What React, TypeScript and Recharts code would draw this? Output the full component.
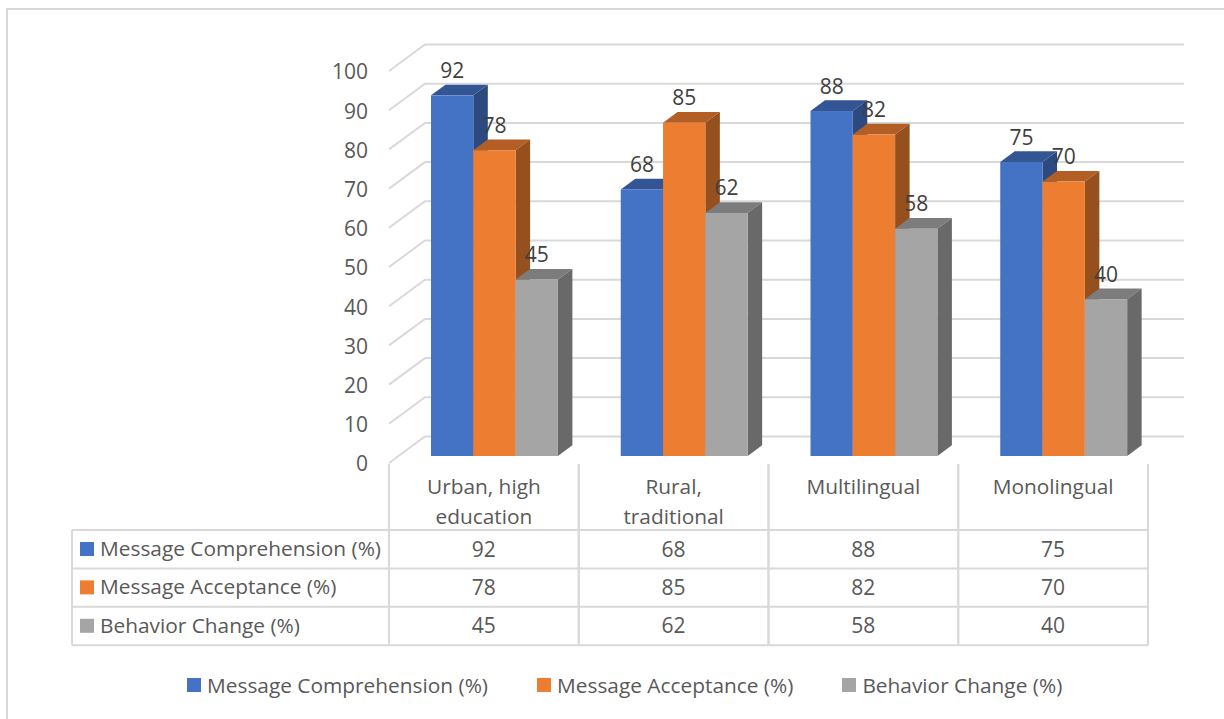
import React from 'react';
import { BarChart, Bar, XAxis, YAxis, CartesianGrid, Legend, LabelList } from 'recharts';

const categories = ['Urban, high education', 'Rural, traditional', 'Multilingual', 'Monolingual'];
const categoryLines = [['Urban, high', 'education'], ['Rural,', 'traditional'], ['Multilingual'], ['Monolingual']];
const comprehension = [92, 68, 88, 75];
const acceptance = [78, 85, 82, 70];
const behavior = [45, 62, 58, 40];
const yTicks = [0, 10, 20, 30, 40, 50, 60, 70, 80, 90, 100];

const seriesList = [
  { key: 'Message Comprehension (%)', values: comprehension, color: '#4472C4', top: '#335593', side: '#2C4A80' },
  { key: 'Message Acceptance (%)', values: acceptance, color: '#ED7D31', top: '#B25E24', side: '#95501D' },
  { key: 'Behavior Change (%)', values: behavior, color: '#A5A5A5', top: '#7C7C7C', side: '#696969' },
];

const chartData = categories.map((name, i) => {
  const row: any = { name };
  seriesList.forEach((s) => { row[s.key] = s.values[i]; });
  return row;
});

const FONT = '"Open Sans", sans-serif';
const TEXT = '#595959';
const LINE = '#D9D9D9';
const WORD_SIZE = 20.85;
const NUM_SIZE = 21;

// where the bars sit between the front edge of the floor and the back wall
const BAR_DX = 11;
const BAR_DY = -7;
const DEPTH_X = 14.5;
const DEPTH_Y = -10.7;
const WALL_DX = 36;
const WALL_DY = -26.5;

const TABLE_LEFT = 72;
const AXIS_LEFT = 389;
const TABLE_TOP = 530;
const ROW_H = 38.4;
const BAND = 189.75;

const Bar3D = ({ x, y, width, height, fill, top, side }: any) => {
  const l = x + BAR_DX;
  const r = l + width;
  const t = y + BAR_DY;
  const b = t + height;
  return (
    <g>
      <polygon points={`${l},${t} ${l + DEPTH_X},${t + DEPTH_Y} ${r + DEPTH_X},${t + DEPTH_Y} ${r},${t}`} fill={top} />
      <polygon points={`${r},${t} ${r + DEPTH_X},${t + DEPTH_Y} ${r + DEPTH_X},${b + DEPTH_Y} ${r},${b}`} fill={side} />
      <rect x={l} y={t} width={width} height={height} fill={fill} />
    </g>
  );
};

const WallLine = ({ x1, y1, x2 }: any) => (
  <polyline
    points={`${x1},${y1} ${x1 + WALL_DX},${y1 + WALL_DY} ${x2 + WALL_DX},${y1 + WALL_DY}`}
    fill="none"
    stroke={LINE}
    strokeWidth={2}
  />
);

const BarLabel = ({ x, y, width, value }: any) => (
  <text x={x + width / 2 + BAR_DX} y={y + BAR_DY - 25.5} textAnchor="middle" dominantBaseline="central" fontFamily={FONT} fontSize={NUM_SIZE} fill="#404040">
    {value}
  </text>
);

// the category label plus that column of the data table
const TableColumn = ({ x, payload, index }: any) => {
  const i = payload.index ?? index;
  const lines = categoryLines[i];
  const left = x - BAND / 2;
  const right = x + BAND / 2;
  return (
    <g fontFamily={FONT} fontSize={NUM_SIZE} fill={TEXT} textAnchor="middle">
      {lines.map((line, n) => (
        <text key={line} x={x} y={486 + n * 30} fontSize={WORD_SIZE} dominantBaseline="central">{line}</text>
      ))}
      <line x1={left} y1={464} x2={left} y2={TABLE_TOP + ROW_H * 3} stroke={LINE} strokeWidth={2} />
      <line x1={right} y1={464} x2={right} y2={TABLE_TOP + ROW_H * 3} stroke={LINE} strokeWidth={2} />
      {seriesList.map((s, r) => (
        <g key={s.key}>
          <line x1={left} y1={TABLE_TOP + ROW_H * r} x2={right} y2={TABLE_TOP + ROW_H * r} stroke={LINE} strokeWidth={2} />
          <text x={x} y={TABLE_TOP + ROW_H * r + 18.5} dominantBaseline="central">{s.values[i]}</text>
        </g>
      ))}
      <line x1={left} y1={TABLE_TOP + ROW_H * 3} x2={right} y2={TABLE_TOP + ROW_H * 3} stroke={LINE} strokeWidth={2} />
    </g>
  );
};

const RowHeaders = () => (
  <g fontFamily={FONT} fontSize={WORD_SIZE} fill={TEXT}>
    <line x1={TABLE_LEFT} y1={TABLE_TOP} x2={TABLE_LEFT} y2={TABLE_TOP + ROW_H * 3} stroke={LINE} strokeWidth={2} />
    {seriesList.map((s, r) => (
      <g key={s.key}>
        <line x1={TABLE_LEFT} y1={TABLE_TOP + ROW_H * r} x2={AXIS_LEFT} y2={TABLE_TOP + ROW_H * r} stroke={LINE} strokeWidth={2} />
        <rect x={80} y={TABLE_TOP + ROW_H * r + 12} width={14} height={14} fill={s.color} />
        <text x={100} y={TABLE_TOP + ROW_H * r + 18} dominantBaseline="central">{s.key}</text>
      </g>
    ))}
    <line x1={TABLE_LEFT} y1={TABLE_TOP + ROW_H * 3} x2={AXIS_LEFT} y2={TABLE_TOP + ROW_H * 3} stroke={LINE} strokeWidth={2} />
  </g>
);

const LegendRow = () => (
  <div style={{ display: 'flex', position: 'absolute', left: 187, top: 670, fontFamily: FONT, fontSize: WORD_SIZE, color: TEXT, lineHeight: '30px', whiteSpace: 'nowrap' }}>
    {seriesList.map((s) => (
      <div key={s.key} style={{ display: 'flex', alignItems: 'center', marginRight: 49 }}>
        <span style={{ width: 14, height: 14, background: s.color, marginRight: 6, display: 'inline-block' }} />
        {s.key}
      </div>
    ))}
  </div>
);

export default function App() {
  return (
    <div style={{ position: 'absolute', left: 0, top: 0, width: 1224, height: 719, background: '#fff', overflow: 'hidden' }}>
      <div style={{ position: 'absolute', left: 6, top: 8, width: 1400, height: 800, border: `2px solid ${LINE}` }} />
      <BarChart
        width={1224}
        height={719}
        data={chartData}
        margin={{ top: 71, right: 76, bottom: 0, left: 0 }}
        barGap={0}
        barSize={42.3}
        style={{ position: 'absolute', left: 0, top: 0 }}
      >
        <CartesianGrid vertical={false} horizontal={(props: any) => <WallLine key={props.key} {...props} />} />
        <XAxis dataKey="name" axisLine={false} tickLine={false} interval={0} tick={(props: any) => <TableColumn {...props} />} height={256} />
        <YAxis
          width={389}
          domain={[0, 100]}
          ticks={yTicks}
          interval={0}
          axisLine={false}
          tickSize={0}
          tickMargin={21}
          tick={{ fontFamily: FONT, fontSize: NUM_SIZE, fill: TEXT, dy: 1 }}
        />
        <Legend verticalAlign="top" wrapperStyle={{ left: 0, top: 0, width: 1224, height: 0 }} content={() => <LegendRow />} />
        {seriesList.map((s) => (
          <Bar
            key={s.key}
            dataKey={s.key}
            isAnimationActive={false}
            fill={s.color}
            shape={(props: any) => <Bar3D {...props} fill={s.color} top={s.top} side={s.side} />}
          >
            <LabelList dataKey={s.key} content={(props: any) => <BarLabel {...props} />} />
          </Bar>
        ))}
        <RowHeaders />
      </BarChart>
    </div>
  );
}
